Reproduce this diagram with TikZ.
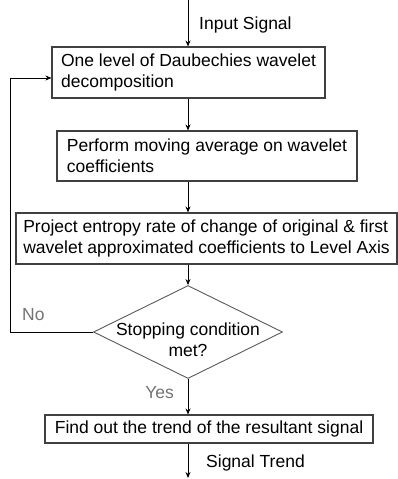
\documentclass[tikz,border=0pt]{standalone}
\usepackage{fontspec}
\setmainfont{Liberation Sans}
\usetikzlibrary{arrows.meta,shapes.geometric}

\newcommand{\flowfont}{\fontsize{17.5}{21}\selectfont}

\tikzset{
    procbox/.style={draw=black!75, line width=1.1pt, align=left, inner sep=0pt, font=\flowfont},
    flowarrow/.style={-{Stealth[length=6pt,width=5pt]}, line width=0.8pt},
    flowlabel/.style={inner sep=0pt, font=\flowfont},
    graylabel/.style={inner sep=0pt, font=\flowfont, text=black!55},
}

\begin{document}
\begin{tikzpicture}[x=1pt,y=1pt]
    \useasboundingbox (0,0) rectangle (398,-479);

    %% Wavelet loop

    % Boxes
    \node[procbox, minimum width=273pt, minimum height=51pt] (decomp) at (188.5,-72.5)
        {One level of Daubechies wavelet\\decomposition};
    \node[procbox, minimum width=300pt, minimum height=50pt] (movavg) at (207,-156)
        {Perform moving average on wavelet\\coefficients};
    \node[procbox, minimum width=381pt, minimum height=51pt] (entropy) at (206.5,-238.5)
        {Project entropy rate of change of original \& first\\wavelet approximated coefficients to Level Axis};

    % Decision
    \node[draw=black!65, line width=0.9pt, diamond, minimum width=189pt, minimum height=93pt, inner sep=0pt] (stop) at (188,-332) {};
    \node[flowlabel, align=center] (stoptext) at (188,-340) {Stopping condition\\met?};

    % Result
    \node[procbox, minimum width=328pt, minimum height=28pt] (trend) at (209,-429)
        {Find out the trend of the resultant signal};

    % Input and output
    \coordinate (in) at (188,0);
    \coordinate (out) at (188,-478);
    \coordinate (loop) at (10,-332);

    % Arrows
    \draw[flowarrow] (in) -- (decomp.north -| in);
    \draw[flowarrow] (decomp.south -| in) -- (movavg.north -| in);
    \draw[flowarrow] (movavg.south -| in) -- (entropy.north -| in);
    \draw[flowarrow] (entropy.south -| in) -- (stop.north);
    \draw[flowarrow] (stop.south) -- (trend.north -| in);
    \draw[flowarrow] (trend.south -| in) -- (out);
    \draw[flowarrow] (stop.west) -- (loop) |- ([yshift=-5.5pt]decomp.west);

    % Labels
    \node[flowlabel, anchor=west] (inlabel) at (199,-25) {Input Signal};
    \node[flowlabel, anchor=west] (outlabel) at (206,-463) {Signal Trend};
    \node[graylabel, anchor=west] (nolabel) at (22,-315) {No};
    \node[graylabel, anchor=east] (yeslabel) at (174,-393) {Yes};

\end{tikzpicture}
\end{document}
